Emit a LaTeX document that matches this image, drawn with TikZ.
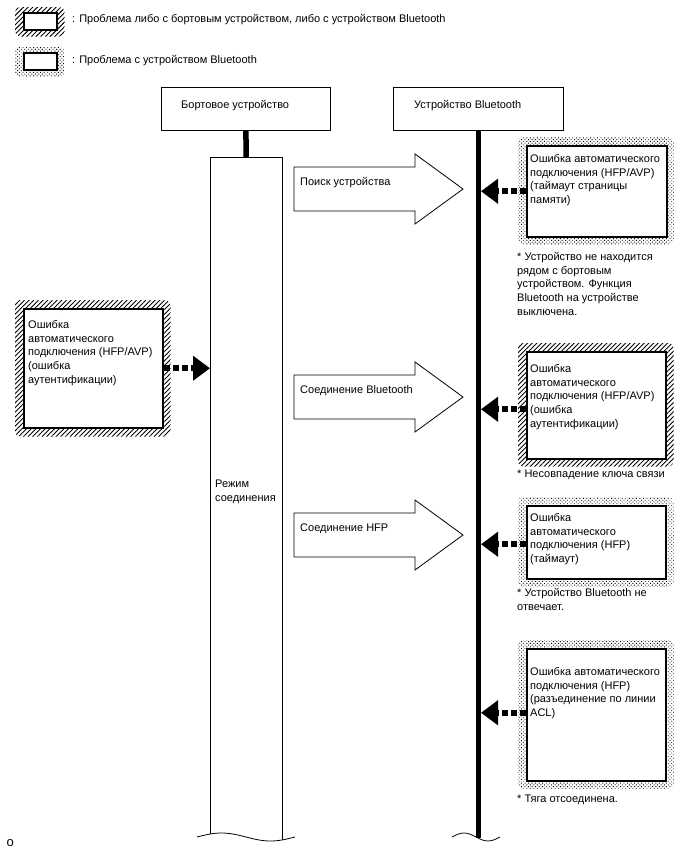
\documentclass[tikz,border=0pt]{standalone}
\usepackage{fontspec}
\setmainfont{Liberation Sans}
\usetikzlibrary{patterns.meta,arrows.meta,backgrounds}
\begin{document}
\begin{tikzpicture}[x=1pt,y=-1pt,
  font=\fontsize{11}{13.8}\selectfont,
  txt/.style={inner sep=0pt, anchor=north west, align=left},
  lbl/.style={inner sep=0pt, anchor=west},
  errbox/.style={draw, line width=1.5pt, fill=white, anchor=north west, inner sep=0pt},
  hdr/.style={draw, line width=0.8pt, fill=white, anchor=north west, inner sep=0pt},
  hatchfill/.style={pattern={Lines[angle=45,distance=3.3pt,line width=0.9pt]}, rounded corners=5pt},
  dotfill/.style={pattern={Dots[angle=45,distance=2.5pt,radius=0.65pt]}, rounded corners=5pt},
  thickline/.style={line width=5.5pt},
  dasharrow/.style={line width=6pt, dash pattern=on 6pt off 3pt, -{Triangle[length=17pt,width=24pt]}},
  blockarrow/.style={draw, line width=0.8pt, fill=white, line join=miter}
]
\useasboundingbox (0,0) rectangle (688,852);

% legend
\node[errbox, minimum width=33pt, minimum height=17pt] (lg1) at (23,12) {};
\node[errbox, minimum width=33pt, minimum height=17pt] (lg2) at (23,52) {};
\begin{pgfonlayer}{background}
\fill[hatchfill] ([shift={(-8,6)}]lg1.south west) rectangle ([shift={(7,-5)}]lg1.north east);
\fill[dotfill] ([shift={(-8,6)}]lg2.south west) rectangle ([shift={(7,-5)}]lg2.north east);
\end{pgfonlayer}
\node[lbl] (lt1) at (72,20) {: Проблема либо с бортовым устройством, либо с устройством Bluetooth};
\node[lbl] (lt2) at (72,61) {: Проблема с устройством Bluetooth};

% headers
\node[hdr, minimum width=169pt, minimum height=43pt] (h1) at (161,87) {};
\node[hdr, minimum width=170pt, minimum height=43pt] (h2) at (393,87) {};
\node[lbl] (h1t) at (181,106) {Бортовое устройство};
\node[lbl] (h2t) at (414,106) {Устройство Bluetooth};

% connection mode bar
\node[inner sep=0pt, anchor=north west, minimum width=72pt, minimum height=683pt] (mode) at (210,157) {};
\draw[line width=0.8pt] ([yshift=6pt]mode.south west) -- (mode.north west) -- (mode.north east) -- (mode.south east);
\draw[line width=0.8pt] (197,837) sin (221.5,833) cos (246,837) sin (270.5,841) cos (295,837);
\node[txt] (modet) at (215,480) {Режим\\соединения};
\draw[thickline] (h1.south) -- (mode.north);

% Bluetooth lifeline
\coordinate (lifeend) at (478,838);
\coordinate (lr) at (481,0);
\draw[thickline] (h2.south) -- (h2.south |- lifeend);
\draw[line width=0.8pt] (452,837) sin (464,833) cos (476,837) sin (488,841) cos (500,837);

% block arrows
\foreach \c/\t [count=\i] in {189/Поиск устройства, 397/Соединение Bluetooth, 535/Соединение HFP}{
  \draw[blockarrow] (294,\c-22) -- (415,\c-22) -- (415,\c-35) -- (463,\c) -- (415,\c+35) -- (415,\c+22) -- (294,\c+22) -- cycle;
  \node[lbl] (ba\i) at (300,\c-6) {\t};
}

% left error box
\node[errbox, minimum width=139pt, minimum height=119pt] (eL) at (23,308) {};
% right error boxes
\node[errbox, minimum width=140pt, minimum height=91pt] (e1) at (526,145) {};
\node[errbox, minimum width=139pt, minimum height=107pt] (e2) at (526,351) {};
\node[errbox, minimum width=139pt, minimum height=73pt] (e3) at (526,505) {};
\node[errbox, minimum width=139pt, minimum height=132pt] (e4) at (526,648) {};
\begin{pgfonlayer}{background}
\fill[hatchfill] ([shift={(-8,8)}]eL.south west) rectangle ([shift={(7,-8)}]eL.north east);
\fill[dotfill] ([shift={(-8,7)}]e1.south west) rectangle ([shift={(6,-8)}]e1.north east);
\fill[hatchfill] ([shift={(-8,7)}]e2.south west) rectangle ([shift={(7,-8)}]e2.north east);
\fill[dotfill] ([shift={(-8,7)}]e3.south west) rectangle ([shift={(7,-8)}]e3.north east);
\fill[dotfill] ([shift={(-8,7)}]e4.south west) rectangle ([shift={(7,-8)}]e4.north east);
\end{pgfonlayer}

\node[txt] (eLt) at (28,320) {Ошибка\\автоматического\\подключения (HFP/AVP)\\(ошибка\\аутентификации)};
\node[txt] (e1t) at (530,154) {Ошибка автоматического\\подключения (HFP/AVP)\\(таймаут страницы\\памяти)};
\node[txt] (e2t) at (530,364) {Ошибка\\автоматического\\подключения (HFP/AVP)\\(ошибка\\аутентификации)};
\node[txt] (e3t) at (530,513) {Ошибка\\автоматического\\подключения (HFP)\\(таймаут)};
\node[txt] (e4t) at (530,667) {Ошибка автоматического\\подключения (HFP)\\(разъединение по линии\\ACL)};

\node[txt] (n1) at (517,252) {* Устройство не находится\\рядом с бортовым\\устройством. Функция\\Bluetooth на устройстве\\выключена.};
\node[txt] (n2) at (517,470) {* Несовпадение ключа связи};
\node[txt] (n3) at (517,588) {* Устройство Bluetooth не\\отвечает.};
\node[txt] (n4) at (517,795) {* Тяга отсоединена.};

% dashed arrows
\draw[dasharrow] (eL.east) -- (eL.east -| mode.west);
\draw[dasharrow] (e1.west) -- (e1.west -| lr);
\draw[dasharrow] ([yshift=-4pt]e2.west) -- ([yshift=-4pt]e2.west -| lr);
\draw[dasharrow] ([yshift=-2pt]e3.west) -- ([yshift=-2pt]e3.west -| lr);
\draw[dasharrow] ([yshift=2pt]e4.west) -- ([yshift=2pt]e4.west -| lr);

\node[lbl, font=\fontsize{13}{15}\selectfont] (o) at (6.5,843) {o};
\end{tikzpicture}
\end{document}
